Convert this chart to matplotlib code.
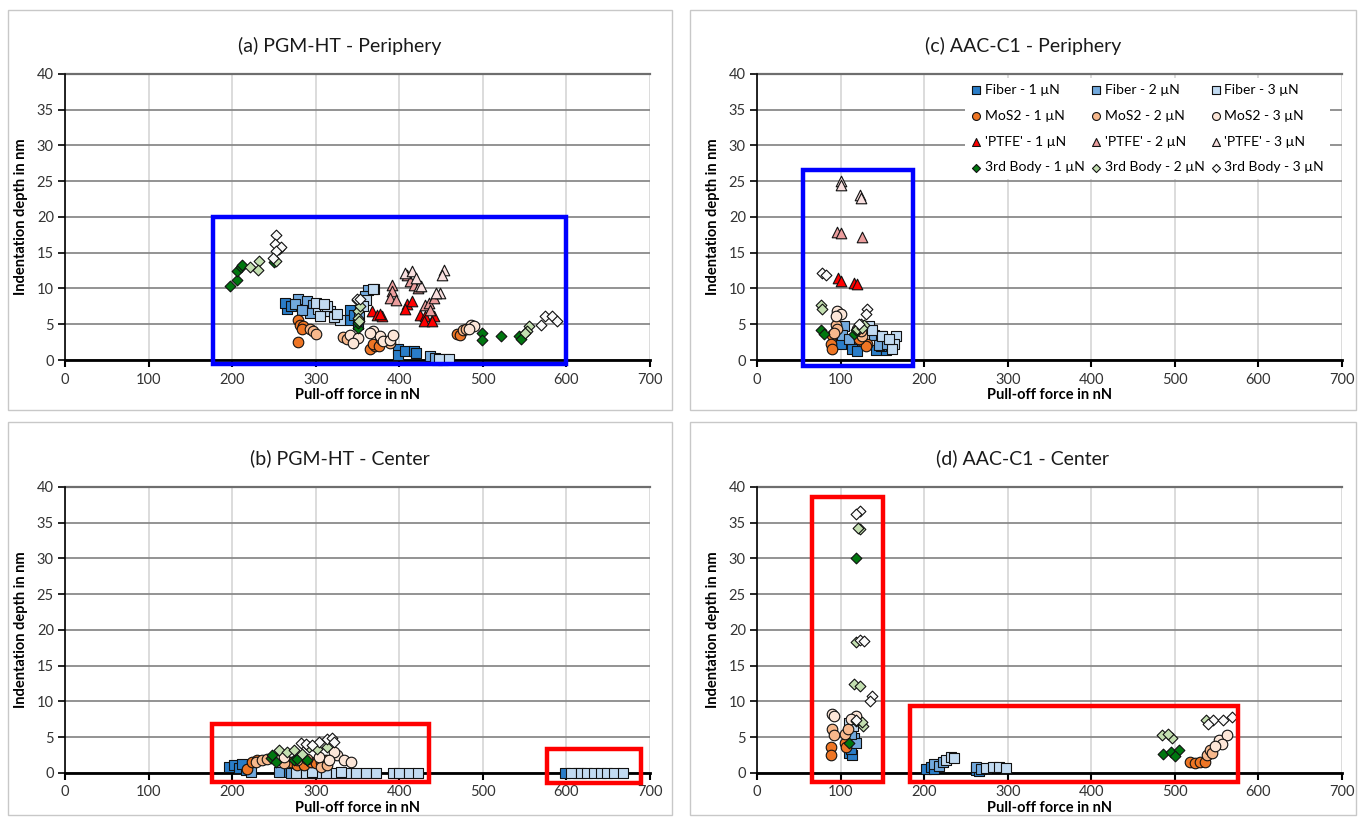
import matplotlib
matplotlib.use("Agg")
import matplotlib.pyplot as plt
from matplotlib.patches import Rectangle

plt.rcParams['font.family'] = ['Lato', 'DejaVu Sans']

# (x = pull-off force nN, y = indentation depth nm)
# --- (a) PGM-HT periphery ---
a_fiber1 = [(266, 7.1), (263, 8.0), (270, 7.5), (276, 7.8), (341, 7.0), (341, 5.6), (346, 6.3),
            (350, 5.0), (399, 1.6), (399, 0.7), (407, 1.2), (418, 1.3), (420, 1.0)]
a_fiber2 = [(279, 8.6), (275, 7.9), (289, 8.2), (297, 7.7), (293, 6.6), (283, 7.0), (363, 9.8),
            (370, 9.9), (359, 8.9), (352, 6.0), (437, 0.5), (445, 0.0), (443, 0.3)]
a_fiber3 = [(303, 7.2), (311, 6.8), (317, 6.8), (329, 5.6), (305, 6.1), (300, 8.0), (313, 7.5),
            (322, 6.0), (369, 9.9), (360, 8.4), (356, 7.5), (452, 0.0), (455, 0.2), (447, 0.2),
            (460, 0.1), (310, 7.8), (325, 6.5)]
a_mos2_1 = [(279, 5.6), (281, 4.9), (285, 4.7), (279, 2.5), (283, 4.4), (365, 1.6), (371, 1.9),
            (369, 2.3), (376, 2.0), (469, 3.7), (473, 3.5)]
a_mos2_2 = [(293, 4.4), (297, 4.0), (333, 3.2), (337, 3.0), (389, 2.4), (476, 4.2), (480, 4.4),
            (300, 3.6), (378, 3.0)]
a_mos2_3 = [(341, 3.5), (351, 3.1), (369, 4.0), (377, 3.3), (380, 2.7), (389, 2.8), (365, 3.8),
            (486, 4.9), (489, 4.7), (483, 4.4), (345, 2.4), (392, 3.5)]
a_ptfe1 = [(367, 6.8), (373, 6.3), (379, 6.1), (377, 6.5), (409, 7.9), (415, 8.2), (407, 7.2),
           (425, 6.3), (431, 6.1), (429, 5.4), (441, 6.1), (439, 5.4)]
a_ptfe2 = [(391, 10.5), (391, 9.6), (389, 8.7), (396, 8.4), (409, 11.9), (413, 11.0), (417, 10.5),
           (431, 7.7), (435, 8.0), (437, 7.0), (441, 8.7), (422, 10.0)]
a_ptfe3 = [(407, 12.1), (415, 12.4), (423, 10.3), (426, 10.3), (453, 12.6), (451, 11.9),
           (449, 9.4), (444, 9.4), (420, 11.5)]
a_body1 = [(198, 10.3), (206, 11.2), (206, 12.4), (210, 13.0), (212, 13.3), (250, 13.7),
           (350, 4.5), (350, 5.2), (499, 3.8), (499, 2.8), (522, 3.3), (543, 3.3), (546, 3.0)]
a_body2 = [(221, 13.0), (232, 13.8), (231, 12.6), (252, 13.9), (256, 15.5), (349, 8.4),
           (350, 6.8), (351, 5.9), (352, 5.4), (555, 4.7), (553, 4.0), (551, 3.8), (353, 7.5)]
a_body3 = [(252, 17.5), (251, 16.2), (258, 15.8), (252, 15.2), (249, 14.2), (349, 8.5),
           (353, 8.5), (569, 4.9), (574, 6.1), (583, 6.1), (589, 5.4)]

# --- (b) PGM-HT center ---
b_fiber1 = [(196, 0.9), (202, 1.1), (208, 0.7), (216, 0.4), (212, 1.3), (258, 0.2), (294, 0.2),
            (598, 0.0)]
b_fiber2 = [(222, 0.2), (256, 0.2), (282, 0.2), (270, 0.0), (300, 0.0), (614, 0.0)]
b_fiber3 = [(276, 0), (288, 0), (300, 0), (312, 0), (324, 0), (336, 0), (348, 0), (360, 0),
            (372, 0), (392, 0), (400, 0), (412, 0), (422, 0), (605, 0), (617, 0), (625, 0),
            (633, 0), (641, 0), (649, 0), (657, 0), (668, 0), (330, 0.2), (296, 0.1)]
b_mos2_1 = [(218, 0.6), (224, 1.6), (230, 1.8), (270, 1.6), (278, 1.1), (286, 1.1), (294, 1.6),
            (300, 1.4), (306, 1.6), (312, 1.8)]
b_mos2_2 = [(228, 1.6), (236, 1.8), (242, 2.0), (278, 1.8), (306, 0.9), (314, 1.1), (262, 1.4),
            (290, 2.0)]
b_mos2_3 = [(250, 2.1), (326, 2.5), (334, 1.8), (342, 1.6), (322, 3.0), (262, 2.3), (304, 2.2),
            (316, 1.8)]
b_ptfe1 = []
b_ptfe2 = []
b_ptfe3 = []
b_body1 = [(246, 2.1), (248, 2.5), (252, 1.6), (274, 1.8), (278, 2.0), (290, 1.8)]
b_body2 = [(256, 3.2), (266, 3.0), (274, 3.2), (292, 3.7), (302, 3.4), (314, 3.7), (284, 2.6)]
b_body3 = [(282, 4.2), (288, 4.0), (304, 4.4), (314, 4.7), (320, 4.9), (322, 4.4), (296, 3.9)]

# --- (c) AAC-C1 periphery ---
c_fiber1 = [(100, 2.3), (114, 2.3), (114, 1.6), (142, 1.4), (154, 1.4), (148, 2.0), (120, 1.2)]
c_fiber2 = [(104, 4.7), (102, 3.5), (140, 3.5), (148, 3.3), (146, 2.1), (155, 2.2), (110, 3.0)]
c_fiber3 = [(134, 4.7), (138, 4.2), (150, 3.3), (166, 3.3), (164, 2.3), (162, 1.6), (125, 4.0),
            (158, 3.0)]
c_mos2_1 = [(90, 3.5), (88, 2.3), (90, 1.6), (126, 2.6), (132, 2.3), (130, 1.9), (122, 3.0)]
c_mos2_2 = [(94, 4.9), (96, 4.4), (126, 3.3), (124, 4.0), (92, 3.8)]
c_mos2_3 = [(96, 6.8), (100, 6.5), (94, 6.2), (120, 4.4)]
c_ptfe1 = [(97, 11.5), (101, 11.0), (116, 10.8), (120, 10.6)]
c_ptfe2 = [(96, 17.9), (101, 17.7), (126, 17.2)]
c_ptfe3 = [(100, 25.0), (101, 24.5), (123, 23.1), (125, 22.7)]
c_body1 = [(76, 4.2), (80, 3.7), (116, 3.7), (118, 4.2)]
c_body2 = [(76, 7.7), (78, 7.2), (124, 5.1), (128, 4.9), (120, 4.4), (126, 4.5)]
c_body3 = [(78, 12.1), (82, 11.9), (132, 7.2), (130, 6.5), (122, 5.0)]

# --- (d) AAC-C1 center ---
d_fiber1 = [(110, 2.8), (114, 2.5), (112, 3.3), (202, 0.6), (208, 0.9), (212, 0.5), (262, 0.4),
            (266, 0.3)]
d_fiber2 = [(116, 4.9), (118, 4.2), (113, 5.5), (212, 1.2), (218, 1.0), (222, 1.6), (262, 0.8),
            (268, 0.6)]
d_fiber3 = [(110, 7.0), (115, 6.5), (226, 1.8), (232, 2.2), (236, 2.1), (274, 0.7), (282, 0.8),
            (290, 0.8), (298, 0.7)]
d_mos2_1 = [(88, 3.7), (88, 2.5), (105, 4.2), (107, 3.7), (518, 1.5), (524, 1.4), (530, 1.5),
            (536, 1.6)]
d_mos2_2 = [(90, 6.2), (92, 5.3), (105, 5.5), (109, 6.2), (538, 2.5), (542, 3.2), (545, 2.8)]
d_mos2_3 = [(90, 8.3), (92, 7.9), (118, 7.9), (112, 7.6), (553, 4.6), (562, 5.3), (556, 4.0),
            (548, 3.8)]
d_ptfe1 = []
d_ptfe2 = []
d_ptfe3 = []
d_body1 = [(119, 30.0), (119, 7.2), (110, 4.2), (486, 2.6), (495, 2.9), (505, 3.2), (500, 2.4)]
d_body2 = [(123, 34.1), (121, 34.3), (118, 18.3), (116, 12.4), (123, 12.2), (127, 6.5),
           (126, 7.1), (485, 5.3), (497, 4.9), (492, 5.5), (537, 7.4)]
d_body3 = [(123, 36.7), (119, 36.2), (123, 18.6), (128, 18.4), (137, 10.8), (135, 10.1),
           (118, 7.4), (546, 7.4), (557, 7.4), (568, 7.8), (540, 6.9)]

# highlight boxes: (x0, x1, y0, y1) in data units
a_boxes = [(177, 599, -0.6, 20.0)]
b_boxes = [(176, 435, -1.3, 6.8), (577, 689, -1.4, 3.3)]
c_boxes = [(55, 187, -0.8, 26.6)]
d_boxes = [(66, 151, -1.3, 38.6), (183, 575, -1.3, 9.4)]

materials = ['Fiber', 'MoS2', "'PTFE'", '3rd Body']
loads = ['1 µN', '2 µN', '3 µN']
markers = {'Fiber': 's', 'MoS2': 'o', "'PTFE'": '^', '3rd Body': 'D'}
sizes = {'Fiber': 52, 'MoS2': 58, "'PTFE'": 58, '3rd Body': 30}
colors = {
    'Fiber': ['#2a7dc8', '#72a9dd', '#c2dbf2'],
    'MoS2': ['#ee7524', '#f7b88c', '#fce6d8'],
    "'PTFE'": ['#ff0000', '#eb9d9d', '#f8dfdf'],
    '3rd Body': ['#00770f', '#c3dfb0', '#fafafa'],
}

panels = [
    ('(a) PGM-HT - Periphery', [0.0477, 0.5615, 0.4292, 0.3484], [8, 10, 664, 400],
     [[a_fiber1, a_fiber2, a_fiber3], [a_mos2_1, a_mos2_2, a_mos2_3],
      [a_ptfe1, a_ptfe2, a_ptfe3], [a_body1, a_body2, a_body3]], a_boxes, '#0000ff', False),
    ('(c) AAC-C1 - Periphery', [0.5554, 0.5615, 0.4292, 0.3484], [690, 10, 666, 400],
     [[c_fiber1, c_fiber2, c_fiber3], [c_mos2_1, c_mos2_2, c_mos2_3],
      [c_ptfe1, c_ptfe2, c_ptfe3], [c_body1, c_body2, c_body3]], c_boxes, '#0000ff', True),
    ('(b) PGM-HT - Center', [0.0477, 0.0585, 0.4292, 0.3484], [8, 422, 664, 393],
     [[b_fiber1, b_fiber2, b_fiber3], [b_mos2_1, b_mos2_2, b_mos2_3],
      [b_ptfe1, b_ptfe2, b_ptfe3], [b_body1, b_body2, b_body3]], b_boxes, '#ff0000', False),
    ('(d) AAC-C1 - Center', [0.5554, 0.0585, 0.4292, 0.3484], [690, 422, 666, 393],
     [[d_fiber1, d_fiber2, d_fiber3], [d_mos2_1, d_mos2_2, d_mos2_3],
      [d_ptfe1, d_ptfe2, d_ptfe3], [d_body1, d_body2, d_body3]], d_boxes, '#ff0000', False),
]

W, H = 1363, 821
fig = plt.figure(figsize=(W / 100, H / 100), dpi=100)

for title, pos, frame, series, boxes, box_color, show_legend in panels:
    # light outer frame around each chart
    fx, fy, fw, fh = frame
    fig.add_artist(Rectangle((fx / W, 1 - (fy + fh) / H), fw / W, fh / H,
                             transform=fig.transFigure, fill=False,
                             edgecolor='#c8c8c8', linewidth=1.0))
    fig.text((fx + fw / 2) / W, 1 - (fy + 36) / H, title, ha='center', va='center',
             fontsize=14, color='#1a1a1a')

    ax = fig.add_axes(pos)
    ax.set_xlim(0, 700)
    ax.set_ylim(0, 40)
    ax.set_xticks(range(0, 701, 100))
    ax.set_yticks(range(0, 41, 5))
    ax.set_axisbelow(True)
    ax.grid(axis='y', color='#8a8a8a', linewidth=1.3)
    ax.grid(axis='x', color='#d2d2d2', linewidth=1.1)
    for side in ('top', 'right'):
        ax.spines[side].set_visible(False)
    ax.spines['left'].set_linewidth(1.2)
    ax.spines['bottom'].set_linewidth(2.0)
    ax.axhline(40, color='#6e6e6e', linewidth=1.6, clip_on=False, zorder=1)
    ax.tick_params(axis='x', direction='out', length=5, width=1.5, labelsize=10.5,
                   labelcolor='#333333', pad=4)
    ax.tick_params(axis='y', direction='out', length=5, width=1.2, labelsize=10.5,
                   labelcolor='#333333', pad=3)
    ax.set_xlabel('Pull-off force in nN', fontsize=10.5, fontweight='bold', labelpad=1)
    ax.set_ylabel('Indentation depth in nm', fontsize=10.5, fontweight='bold', labelpad=6)

    for m, mat in enumerate(materials):
        for k in range(3):
            pts = series[m][k]
            xs = [p[0] for p in pts]
            ys = [p[1] for p in pts]
            ax.scatter(xs, ys, marker=markers[mat], s=sizes[mat], c=colors[mat][k],
                       edgecolors='#111111', linewidths=0.8, zorder=3, clip_on=False,
                       label=f'{mat} - {loads[k]}')

    for x0, x1, y0, y1 in boxes:
        ax.add_patch(Rectangle((x0, y0), x1 - x0, y1 - y0, fill=False,
                               edgecolor=box_color, linewidth=3.2, clip_on=False, zorder=5))

    if show_legend:
        handles, labels = ax.get_legend_handles_labels()
        # reorder so three columns read across as loads 1, 2, 3
        order = [m * 3 + k for k in range(3) for m in range(4)]
        leg = ax.legend([handles[i] for i in order], [labels[i] for i in order],
                        ncol=3, loc='upper left', bbox_to_anchor=(0.356, 0.985),
                        frameon=True, fancybox=False, framealpha=1, edgecolor='none',
                        facecolor='white', fontsize=10, handletextpad=0.2,
                        columnspacing=0.45, labelspacing=1.0, borderaxespad=0,
                        handlelength=0.8, scatterpoints=1, markerscale=0.75)
        leg.set_zorder(6)

fig.savefig('out.png', dpi=100)
